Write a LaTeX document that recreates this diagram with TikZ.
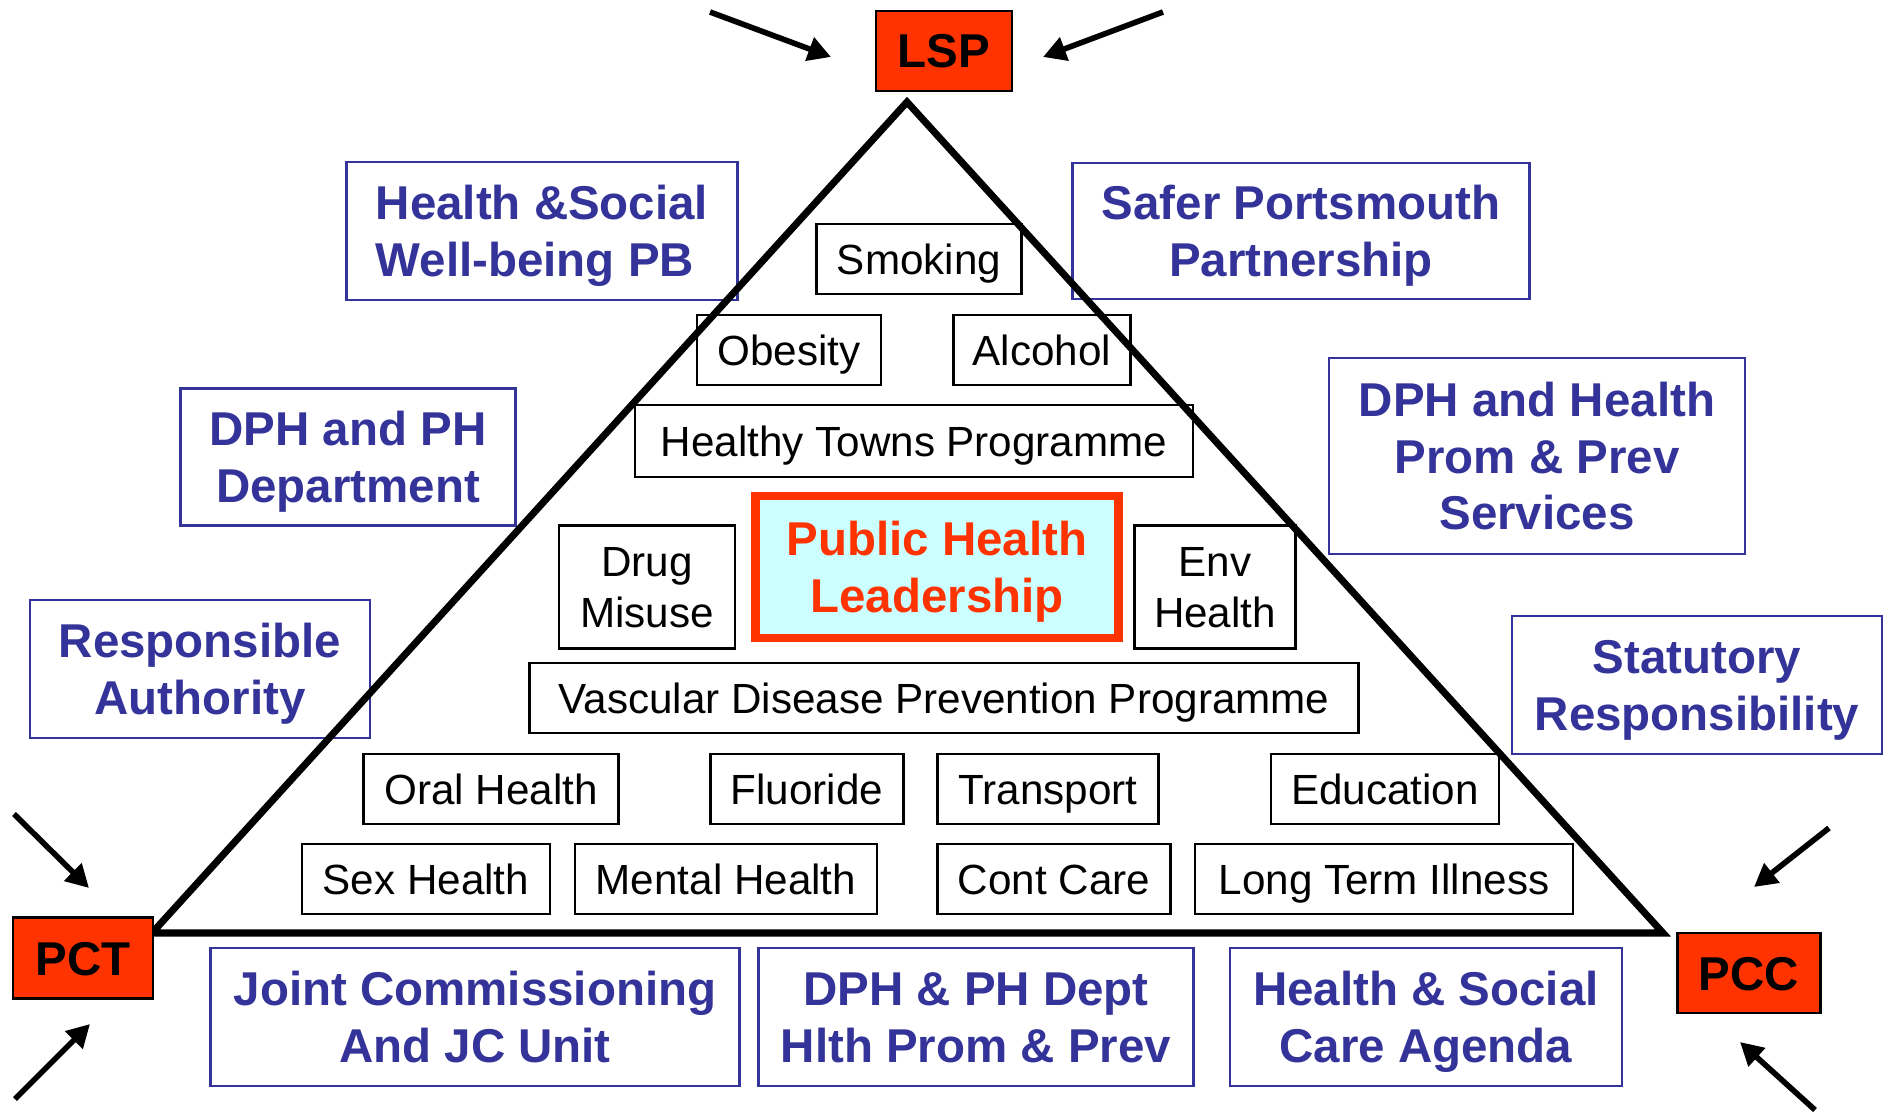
\documentclass[tikz,border=0pt]{standalone}
\usepackage{fontspec}
\setmainfont{Liberation Sans}
\usetikzlibrary{arrows.meta}
\definecolor{hblue}{HTML}{333399}
\definecolor{hred}{HTML}{FF3300}
\definecolor{hcyan}{HTML}{CCFFFF}
\begin{document}
\begin{tikzpicture}[x=0.01cm,y=-0.01cm,
  sz/.style 2 args={minimum width=#1*0.01cm,minimum height=#2*0.01cm},
  itembox/.style={draw=black,line width=0.8pt,fill=white,inner sep=0pt,align=center,
    font=\fontsize{12}{14.5}\selectfont,text height=8.6pt,text depth=0pt},
  twoitem/.style={text height=23.1pt},
  bluebox/.style={draw=hblue,line width=0.75pt,fill=white,inner sep=0pt,align=center,text=hblue,
    font=\fontsize{13.5}{16}\selectfont\bfseries,text height=25.67pt,text depth=0pt},
  threeline/.style={text height=41.67pt},
  orgbox/.style={draw=black,line width=0.8pt,fill=hred,inner sep=0pt,
    font=\fontsize{13.5}{16}\selectfont\bfseries,text height=9.67pt,text depth=0pt},
  leadbox/.style={draw=hred,line width=2.3pt,fill=hcyan,text=hred,inner sep=0pt,align=center,
    font=\fontsize{13.5}{16}\selectfont\bfseries,text height=25.67pt,text depth=0pt},
  pyramid/.style={line width=2pt,line join=miter},
  inarrow/.style={line width=1.6pt,-{Triangle[length=6.5pt,width=6.8pt]}}
]
\useasboundingbox (0,0) rectangle (1891,1113);

% outer blue boxes
\node[bluebox,align=left,sz={391}{138}] (hsw) at (542,231) {Health \&Social\\Well-being PB};
\node[bluebox,sz={457}{136}] (spp) at (1301,231) {Safer Portsmouth\\Partnership};
\node[bluebox,sz={335}{137}] (dphph) at (348,457) {DPH and PH\\Department};
\node[bluebox,sz={340}{138}] (ra) at (200,669) {Responsible\\Authority};
\node[bluebox,threeline,sz={416}{196}] (dphhp) at (1537,456) {DPH and Health\\Prom \& Prev\\Services};
\node[bluebox,sz={370}{138}] (sr) at (1697,685) {Statutory\\Responsibility};
\node[bluebox,sz={529}{138}] (jc) at (475,1017) {Joint Commissioning\\And JC Unit};
\node[bluebox,sz={435}{138}] (dphd) at (976,1017) {DPH \& PH Dept\\Hlth Prom \& Prev};
\node[bluebox,sz={392}{138}] (hsca) at (1426,1017) {Health \& Social\\Care Agenda};

% items inside the pyramid
\node[itembox,sz={205}{70}] (smoking) at (919,259) {Smoking};
\node[itembox,sz={184}{70}] (obesity) at (789,350) {Obesity};
\node[itembox,sz={177}{70}] (alcohol) at (1042,350) {Alcohol};
\node[itembox,sz={558}{72}] (htp) at (914,441) {Healthy Towns Programme};
\node[itembox,twoitem,sz={176}{123}] (drug) at (647,587) {Drug\\Misuse};
\node[leadbox,sz={363}{142}] (phl) at (937,567) {Public Health\\Leadership};
\node[itembox,twoitem,sz={161}{123}] (env) at (1215,587) {Env\\Health};
\node[itembox,sz={829}{70}] (vdpp) at (944,698) {Vascular Disease Prevention Programme};
\node[itembox,sz={255}{70}] (oral) at (491,789) {Oral Health};
\node[itembox,sz={193}{70}] (fluoride) at (807,789) {Fluoride};
\node[itembox,sz={221}{70}] (transport) at (1048,789) {Transport};
\node[itembox,sz={228}{70}] (education) at (1385,789) {Education};
\node[itembox,sz={248}{70}] (sex) at (426,879) {Sex Health};
\node[itembox,sz={302}{70}] (mental) at (726,879) {Mental Health};
\node[itembox,sz={233}{70}] (cont) at (1054,879) {Cont Care};
\node[itembox,sz={378}{70}] (lti) at (1384,879) {Long Term Illness};

% pyramid
\coordinate (apex) at (907,102);
\coordinate (bl) at (152,933);
\coordinate (br) at (1663,933);
\draw[pyramid] (apex) -- (br) -- (bl) -- cycle;

% organisations at the corners
\node[orgbox,sz={136}{80}] (lsp) at (944,51) {LSP};
\node[orgbox,sz={140}{81}] (pct) at (83,958) {PCT};
\node[orgbox,sz={143}{80}] (pcc) at (1749,973) {PCC};

% arrows
\coordinate (lspLs) at (710,12);  \coordinate (lspLe) at (831,57);
\coordinate (lspRs) at (1163,12); \coordinate (lspRe) at (1043,57);
\coordinate (pctTs) at (14,814);  \coordinate (pctTe) at (89,888);
\coordinate (pctBs) at (15,1099); \coordinate (pctBe) at (90,1024);
\coordinate (pccTs) at (1829,828); \coordinate (pccTe) at (1754,887);
\coordinate (pccBs) at (1815,1110); \coordinate (pccBe) at (1740,1042);
\draw[inarrow] (lspLs) -- (lspLe);
\draw[inarrow] (lspRs) -- (lspRe);
\draw[inarrow] (pctTs) -- (pctTe);
\draw[inarrow] (pctBs) -- (pctBe);
\draw[inarrow] (pccTs) -- (pccTe);
\draw[inarrow] (pccBs) -- (pccBe);
\end{tikzpicture}
\end{document}
